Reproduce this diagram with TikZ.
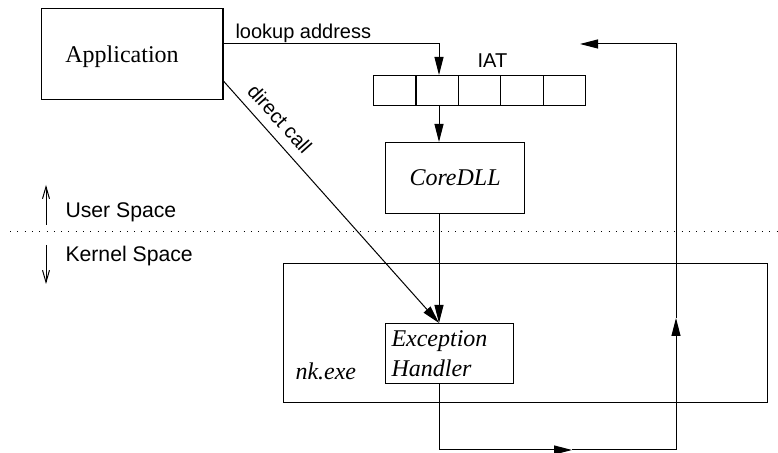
\documentclass[tikz,border=0pt]{standalone}
\usepackage{fontspec}
\setmainfont{Liberation Serif}
\setsansfont{Liberation Sans}
\usetikzlibrary{arrows.meta}
\begin{document}
\begin{tikzpicture}[x=0.5pt,y=-0.5pt,line width=0.5pt,
  box/.style={draw,line width=0.6pt,inner sep=0pt,anchor=north west},
  cell/.style={box,minimum width=21.2pt,minimum height=15pt},
  conn/.style={draw,-{Triangle[length=9pt,width=4.5pt]}},
  updown/.style={draw,-{Straight Barb[length=6pt,width=3.5pt]}},
  serif/.style={font=\fontsize{12}{15}\selectfont,inner sep=0pt},
  iserif/.style={font=\itshape\fontsize{12}{15}\selectfont,inner sep=0pt},
  sans/.style={font=\sffamily\fontsize{10}{12}\selectfont,inner sep=0pt},
  bigsans/.style={font=\sffamily\fontsize{10.6}{12.7}\selectfont,inner sep=0pt}]
\useasboundingbox (0,0) rectangle (778,453);

% user / kernel boundary
\coordinate (sepL) at (10,232);
\coordinate (sepR) at (778,232);
\draw[dash pattern=on 0.5pt off 3.15pt] (sepL) -- (sepR);
\coordinate (usA) at (46,225);
\coordinate (usB) at (46,185);
\coordinate (ksA) at (46,245);
\coordinate (ksB) at (46,284);
\draw[updown] (usA) -- (usB);
\draw[updown] (ksA) -- (ksB);
\node[bigsans,anchor=base west] (uslbl) at (65,218) {User Space};
\node[bigsans,anchor=base west] (kslbl) at (65,262) {Kernel Space};

% application
\node[box,minimum width=90.7pt,minimum height=45.5pt] (app) at (41,8) {};
\node[serif,anchor=base] (applbl) at (122,63) {Application};

% import address table
\foreach \i in {1,...,5}
  \node[cell] (iat\i) at ({373+42.4*(\i-1)},75) {};
\node[sans,anchor=base] (iatlbl) at (492.5,68) {IAT};

% CoreDLL
\node[box,minimum width=69.5pt,minimum height=35.5pt,iserif] (core) at (385,142) {CoreDLL};

% nk.exe and exception handler
\node[box,minimum width=242pt,minimum height=69.5pt] (nk) at (283,263) {};
\node[iserif,anchor=base west] (nklbl) at (295,380) {nk.exe};
\node[box,minimum width=64pt,minimum height=30pt] (eh) at (385,323) {};
\node[iserif,anchor=base west,align=left] (ehlbl) at (391,377) {Exception\\Handler};

% connectors
\coordinate (col) at (439,0);
\draw[conn] (app.north east) ++(0,36) -| (col |- iat2.north);
\node[sans,anchor=base west] (lookuplbl) at (235,39) {lookup address};
\draw[conn] (col |- iat2.south) -- (col |- core.north);
\draw[conn] (col |- core.south) -- (col |- eh.north);
\draw[conn] ([yshift=9.5pt]app.south east) -- (col |- eh.north);
\node[sans,rotate=-48] (directlbl) at (280,119) {direct call};

% return path
\coordinate (b1) at (439,450);
\coordinate (bm) at (572,450);
\coordinate (b2) at (676,450);
\coordinate (rm) at (676,318);
\coordinate (t) at (676,44);
\coordinate (ret) at (580,44);
\draw[conn] (col |- eh.south) -- (b1) -- (bm);
\draw[conn] (bm) -- (b2) -- (rm);
\draw[conn] (rm) -- (t) -- (ret);
\end{tikzpicture}
\end{document}
